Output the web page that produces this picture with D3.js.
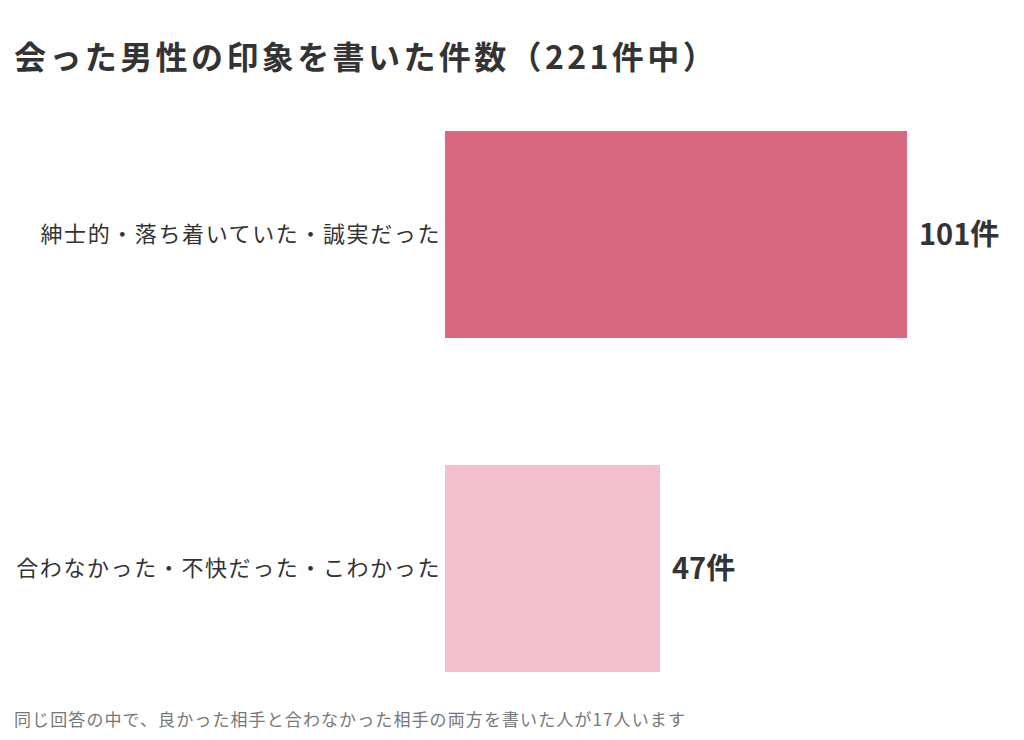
<!DOCTYPE html>
<html>
<head>
<meta charset="utf-8">
<script src="https://cdn.jsdelivr.net/npm/d3@7"></script>
<style>
  body { margin: 0; background: #fff; }
  text { font-family: "Noto Sans CJK JP", "Noto Sans", sans-serif; }
</style>
</head>
<body>
<script>
// data
var categories = ["紳士的・落ち着いていた・誠実だった", "合わなかった・不快だった・こわかった"];
var counts = [101, 47];
var barColors = ["#d96981", "#f4bfcc"];
var unit = "件";

var width = 1024, height = 740;

var svg = d3.select("body").append("svg")
    .attr("width", width)
    .attr("height", height);

// title
svg.append("text")
    .attr("x", 14)
    .attr("y", 69)
    .text("会った男性の印象を書いた件数（221件中）")
    .style("fill", "#333")
    .style("font-size", "32px")
    .style("font-weight", "bold")
    .style("letter-spacing", "3.4px");

var x = d3.scaleLinear()
    .domain([0, 101])
    .range([445, 907]);

var y = d3.scaleBand()
    .domain(categories)
    .range([131, 672])
    .paddingInner(0.38)
    .paddingOuter(0);

var rows = categories.map(function (c, i) {
  return { label: c, v: counts[i], color: barColors[i] };
});

svg.selectAll("rect.bar")
    .data(rows)
  .enter().append("rect")
    .attr("class", "bar")
    .attr("x", x(0))
    .attr("y", function (d) { return y(d.label); })
    .attr("width", function (d) { return x(d.v) - x(0); })
    .attr("height", y.bandwidth())
    .style("fill", function (d) { return d.color; });

// category labels on the left
svg.selectAll("text.cat")
    .data(rows)
  .enter().append("text")
    .attr("class", "cat")
    .attr("x", x(0) - 4)
    .attr("y", function (d) { return y(d.label) + y.bandwidth() / 2; })
    .attr("dy", "0.35em")
    .attr("text-anchor", "end")
    .text(function (d) { return d.label; })
    .style("fill", "#333")
    .style("font-size", "22px")
    .style("letter-spacing", "1.6px");

// value labels
svg.selectAll("text.val")
    .data(rows)
  .enter().append("text")
    .attr("class", "val")
    .attr("x", function (d) { return x(d.v) + 12; })
    .attr("y", function (d) { return y(d.label) + y.bandwidth() / 2; })
    .attr("dy", "0.35em")
    .text(function (d) { return d.v + unit; })
    .style("fill", "#333")
    .style("font-size", "29px")
    .style("font-weight", "bold");

// footnote
svg.append("text")
    .attr("x", 14)
    .attr("y", 726)
    .text("同じ回答の中で、良かった相手と合わなかった相手の両方を書いた人が17人います")
    .style("fill", "#777")
    .style("font-size", "17px")
    .style("letter-spacing", "1.1px");
</script>
</body>
</html>
